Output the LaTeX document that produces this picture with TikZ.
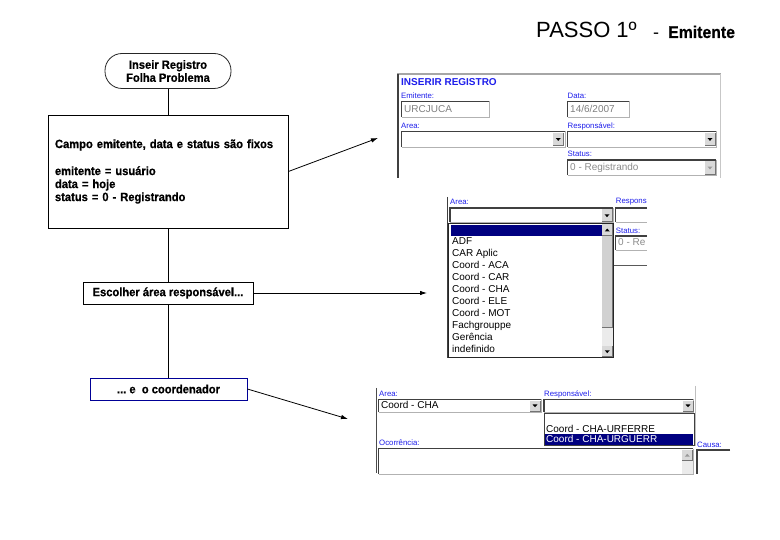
\documentclass[tikz,border=0pt]{standalone}
\usepackage{fontspec}
\setmainfont{Liberation Sans}
\newfontfamily\flowfont[FakeStretch=0.93, BoldFeatures={FakeBold=0.6}]{Liberation Sans}
\usetikzlibrary{arrows.meta}
\definecolor{lblblue}{RGB}{30,30,235}
\definecolor{selnavy}{RGB}{0,0,128}
\definecolor{boxblue}{RGB}{0,0,150}
% sunken field: x1 y1 x2 y2
\newcommand{\ssfield}[4]{%
  \fill[white] (#1,#2) rectangle (#3,#4);
  \draw[black!30] (#1,#4) -- (#3,#4) -- (#3,#2);
  \draw[black!75, line width=1.1pt] (#3,#2) -- (#1,#2) -- (#1,#4);
}
% drop-down button: x1 y1 x2 y2 colour
\newcommand{\ssdown}[5]{%
  \fill[black!15] (#1,#2) rectangle (#3,#4);
  \draw[black!55] (#1,#4) -- (#3,#4) -- (#3,#2);
  \fill[#5] ({(#1+#3)/2-2.5},{(#2+#4)/2-1.2}) -- ++(5,0) -- ++(-2.5,2.8) -- cycle;
}
\newcommand{\ssup}[5]{%
  \fill[black!15] (#1,#2) rectangle (#3,#4);
  \draw[black!55] (#1,#4) -- (#3,#4) -- (#3,#2);
  \fill[#5] ({(#1+#3)/2-2.5},{(#2+#4)/2+1.4}) -- ++(5,0) -- ++(-2.5,-2.8) -- cycle;
}
\begin{document}
\begin{tikzpicture}[x=1pt,y=-1pt,
  flowtext/.style={font=\flowfont\bfseries\fontsize{12}{13}\selectfont},
  term/.style={flowtext, draw=black!85, line width=0.8pt, rounded corners=17pt,
    minimum width=126pt, minimum height=35pt, inner sep=0pt, align=center},
  flowbox/.style={flowtext, draw=black, line width=0.8pt, inner sep=0pt},
  conn/.style={line width=0.8pt},
  arr/.style={line width=0.8pt, -{Latex[length=7pt,width=4.5pt]}},
  lbl/.style={anchor=west, inner sep=0pt, text=lblblue, font=\fontsize{7.8}{8}\selectfont},
  val/.style={anchor=west, inner sep=0pt, text height=7.4pt, text depth=2pt, font=\fontsize{10}{11}\selectfont}]
\useasboundingbox (0,0) rectangle (780,540);
\fill[white] (0,0) rectangle (780,540);

% ---------- title ----------
\node[anchor=base west, inner sep=0pt, font=\fontsize{22}{22}\selectfont] (title) at (536,38) {PASSO 1º};
\node[anchor=base, inner sep=0pt, font=\fontsize{18}{18}\selectfont] (dash) at (656,38.5) {-};
\node[anchor=base west, inner sep=0pt, font=\flowfont\bfseries\fontsize{17}{17}\selectfont] (emit) at (668,38) {Emitente};

% ---------- flowchart ----------
\node[term] (t) at (168,71) {Inseir Registro\\Folha Problema};
\node[flowbox, minimum width=240pt, minimum height=113pt, text width=226pt, align=left] (b1) at (168,171.5)
  {Campo emitente, data e status são fixos\\[14pt]emitente = usuário\\data = hoje\\status = 0 - Registrando};
\node[flowbox, minimum width=170pt, minimum height=22pt] (b2) at (168,293) {Escolher área responsável...};
\node[flowbox, draw=boxblue, minimum width=157pt, minimum height=22pt] (b3) at (168.5,389) {...\ e\ \ o coordenador};

\draw[conn] (t.south) -- (b1.north);
\draw[conn] (b1.south) -- (b2.north);
\draw[conn] (b2.south) -- (b2.south |- b3.north);

\coordinate (s1) at (378,138);
\coordinate (s2) at (427,293);
\coordinate (s3) at (348,419);
\draw[arr] (b1.east) -- (s1);
\draw[arr] (b2.east) -- (s2);
\draw[arr] (b3.east) -- (s3);

% ---------- screenshot 1 ----------
\draw[black!35, line width=1.5pt] (397,74) -- (721,74);
\draw[black!75, line width=1.3pt] (398,74) -- (398,178);
\draw[black!22] (720.5,74) -- (720.5,178);
\node[anchor=west, inner sep=0pt, text=lblblue, font=\bfseries\fontsize{10}{11}\selectfont] (ins) at (401,82) {INSERIR REGISTRO};
\node[lbl] at (401,96) {Emitente:};
\ssfield{401.5}{101.5}{489}{117}
\node[val, text=black!50] at (404,109.5) {URCJUCA};
\node[lbl] at (567.5,96) {Data:};
\ssfield{567.5}{101.5}{629}{117}
\node[val, text=black!50] at (570,109.5) {14/6/2007};
\node[lbl] at (401,126) {Area:};
\ssfield{401.5}{131.5}{565}{147}
\ssdown{553}{133}{563.5}{145.5}{black}
\node[lbl] at (567.5,126) {Responsável:};
\ssfield{567.5}{131.5}{716}{147}
\ssdown{705}{133}{715}{145.5}{black}
\node[lbl] at (567.5,154) {Status:};
\ssfield{567.5}{160}{716}{175.5}
\ssdown{705}{161.5}{715}{174}{black!40}
\node[val, text=black!45] at (570,168) {0 - Registrando};

% ---------- screenshot 2 ----------
\draw[black!75, line width=1.2pt] (447.5,197) -- (447.5,358);
\node[lbl] at (450,201.7) {Area:};
\ssfield{450}{208}{613}{222.5}
\ssdown{602}{209.5}{612}{221.5}{black}
\node[lbl] at (615.7,201.7) {Respons};
\fill[white] (615.7,208) rectangle (647,222.5);
\draw[black!75, line width=1.1pt] (647,208) -- (615.7,208) -- (615.7,222.5);
\draw[black!30] (615.7,222.5) -- (647,222.5);
\draw[black!85, fill=white] (448.5,223) rectangle (613.5,357.5);
\fill[selnavy] (450.5,225) rectangle (602,236);
\fill[black!8] (602,224) rectangle (613,357);
\fill[black!18] (602,236.5) rectangle (612.5,327);
\draw[black!55] (602,327) -- (612.5,327) -- (612.5,236.5);
\ssup{602}{224.5}{612.5}{235.5}{black}
\ssdown{602}{346.5}{612.5}{356.5}{black}
\foreach \t [count=\i from 0] in {ADF,CAR Aplic,Coord - ACA,Coord - CAR,Coord - CHA,Coord - ELE,Coord - MOT,Fachgrouppe,Gerência,indefinido}
  \node[val] at (452,{242+12*\i}) {\t};
\node[lbl] at (615.7,230.7) {Status:};
\fill[white] (615.7,236) rectangle (647,250);
\draw[black!75, line width=1.1pt] (647,236) -- (615.7,236) -- (615.7,250);
\draw[black!30] (615.7,250) -- (647,250);
\node[val, text=black!45] at (618,243) {0 - Re};
\draw[black!65] (613.5,265) -- (647,265);

% ---------- screenshot 3 ----------
\draw[black!70, line width=1.2pt] (376.5,388) -- (376.5,473);
\node[lbl] at (379,394.3) {Area:};
\ssfield{378.5}{399.3}{540.7}{412}
\ssdown{530}{400.5}{540}{410.8}{black}
\node[val] at (381,406) {Coord - CHA};
\node[lbl] at (544,394.3) {Responsável:};
\ssfield{544}{399.3}{693.3}{412}
\ssdown{683}{400.5}{693}{410.8}{black}
\draw[black!75, fill=white] (544,412.7) rectangle (694,445.5);
\node[val] at (546,429.5) {Coord - CHA-URFERRE};
\fill[selnavy] (545.3,434.3) rectangle (692.7,444.6);
\node[val, text=white] at (546,439.6) {Coord - CHA-URGUERR};
\node[lbl] at (379,442.7) {Ocorrência:};
\ssfield{378.5}{448.5}{693.3}{474}
\fill[black!8] (682,449.5) rectangle (692.5,474);
\ssup{682}{450}{692.5}{460.5}{black!40}
\draw[black!25] (695.5,386) -- (695.5,446);
\node[lbl] at (697,445) {Causa:};
\draw[black!75, line width=1.1pt] (730,450) -- (697,450) -- (697,474);
\end{tikzpicture}
\end{document}
